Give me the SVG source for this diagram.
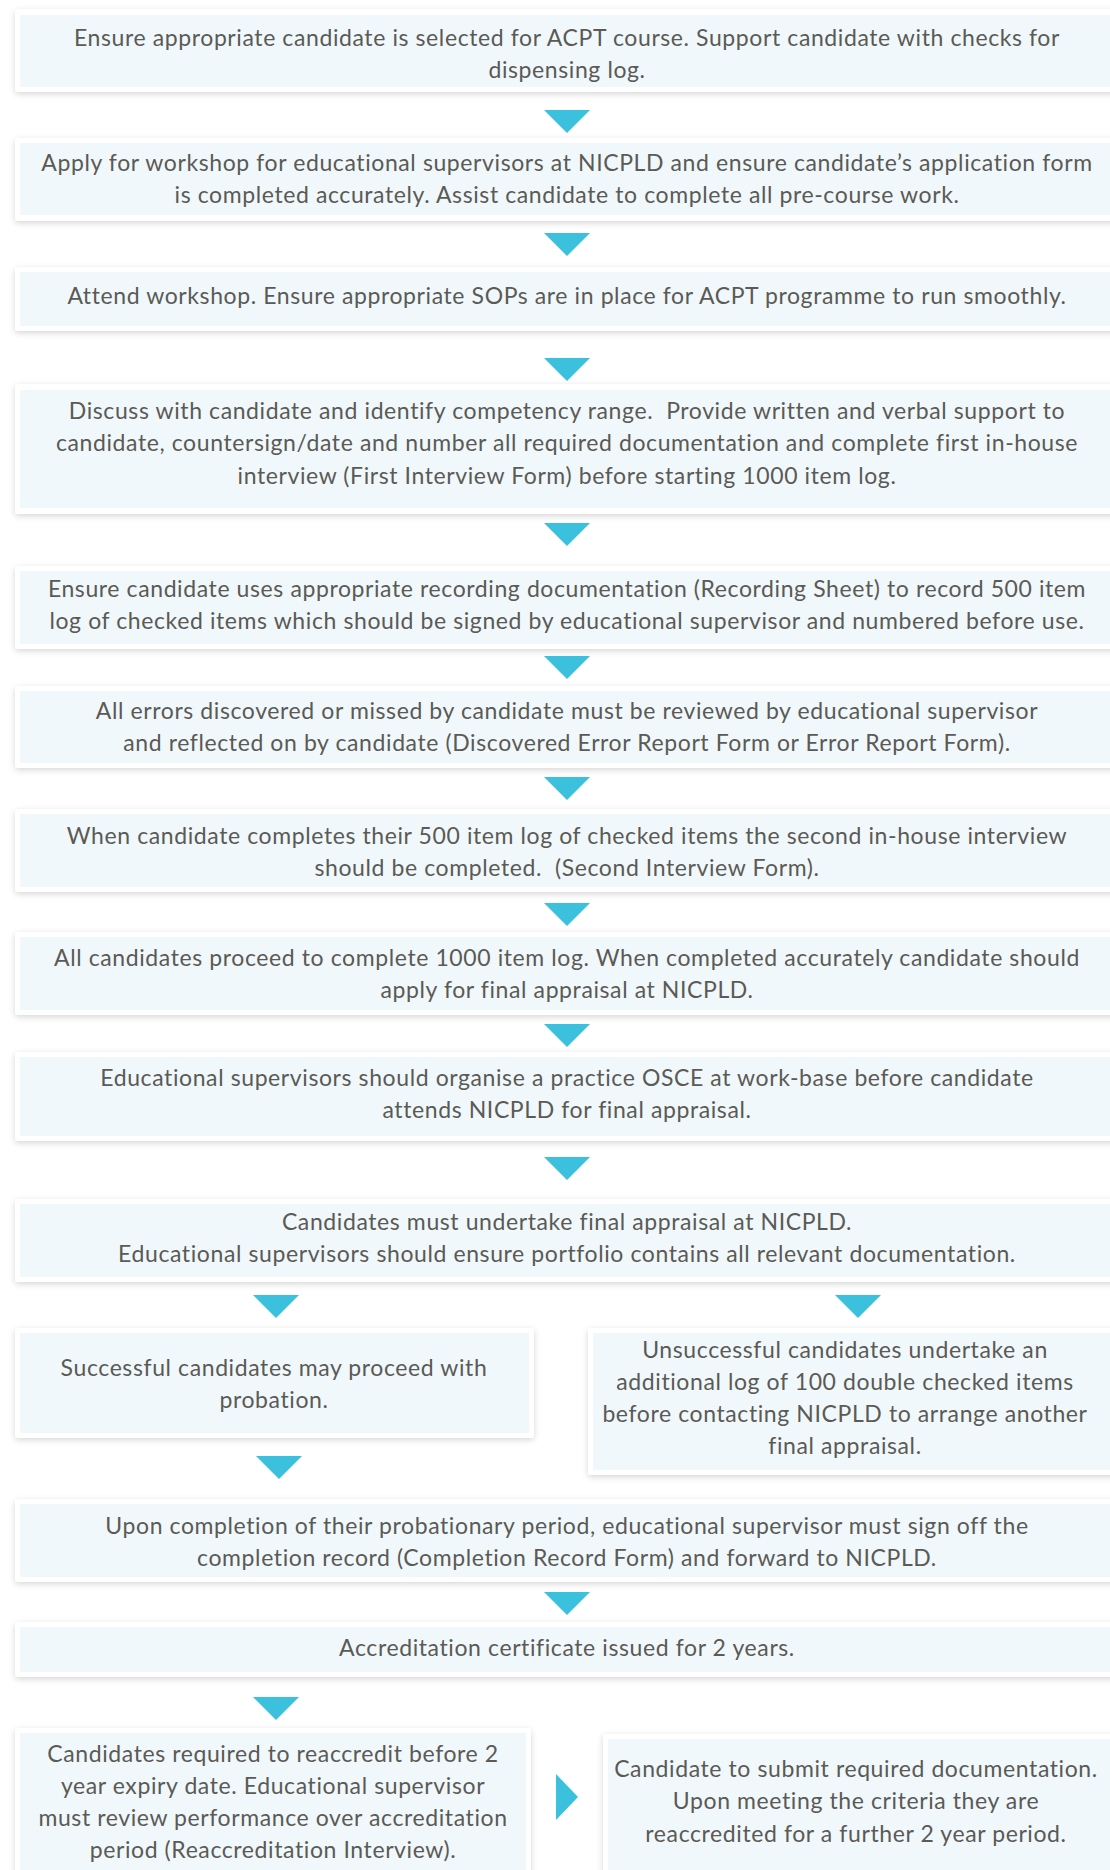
<svg xmlns="http://www.w3.org/2000/svg" width="1110" height="1870" viewBox="0 0 1110 1870">
  <defs>
    <filter id="soft" x="-5%" y="-20%" width="110%" height="140%">
      <feDropShadow dx="0" dy="2" stdDeviation="3" flood-color="#000" flood-opacity="0.16"/>
    </filter>
  </defs>
  <style>
    .card { fill: #ffffff; filter: url(#soft); }
    .fill { fill: #f0f8fc; }
    .t { font-family: Lato, "Noto Sans", "Liberation Sans", sans-serif; font-size: 23px; letter-spacing: 0.6px; fill: #5b5a55; text-anchor: middle; white-space: pre; }
    .arrow { fill: #3bc1de; }
  </style>
  <rect width="1110" height="1870" fill="#ffffff"/>

  <!-- step cards -->
  <g id="step1">
    <rect class="card" x="15" y="9" width="1110" height="83" rx="3"/>
    <rect class="fill" x="20" y="15" width="1100" height="72"/>
    <text class="t" x="567" y="46">Ensure appropriate candidate is selected for ACPT course. Support candidate with checks for</text>
    <text class="t" x="567" y="78">dispensing log.</text>
  </g>
  <g id="step2">
    <rect class="card" x="15" y="138" width="1110" height="83" rx="3"/>
    <rect class="fill" x="20" y="143" width="1100" height="72"/>
    <text class="t" x="567" y="171">Apply for workshop for educational supervisors at NICPLD and ensure candidate’s application form</text>
    <text class="t" x="567" y="203">is completed accurately. Assist candidate to complete all pre-course work.</text>
  </g>
  <g id="step3">
    <rect class="card" x="15" y="267" width="1110" height="64" rx="3"/>
    <rect class="fill" x="20" y="272" width="1100" height="54"/>
    <text class="t" x="567" y="304">Attend workshop. Ensure appropriate SOPs are in place for ACPT programme to run smoothly.</text>
  </g>
  <g id="step4">
    <rect class="card" x="15" y="384" width="1110" height="130" rx="3"/>
    <rect class="fill" x="20" y="390" width="1100" height="118"/>
    <text class="t" x="567" y="419">Discuss with candidate and identify competency range.  Provide written and verbal support to</text>
    <text class="t" x="567" y="451">candidate, countersign/date and number all required documentation and complete first in-house</text>
    <text class="t" x="567" y="484">interview (First Interview Form) before starting 1000 item log.</text>
  </g>
  <g id="step5">
    <rect class="card" x="15" y="566" width="1110" height="83" rx="3"/>
    <rect class="fill" x="20" y="571" width="1100" height="73"/>
    <text class="t" x="567" y="597">Ensure candidate uses appropriate recording documentation (Recording Sheet) to record 500 item</text>
    <text class="t" x="567" y="629">log of checked items which should be signed by educational supervisor and numbered before use.</text>
  </g>
  <g id="step6">
    <rect class="card" x="15" y="686" width="1110" height="82" rx="3"/>
    <rect class="fill" x="20" y="691" width="1100" height="72"/>
    <text class="t" x="567" y="719">All errors discovered or missed by candidate must be reviewed by educational supervisor</text>
    <text class="t" x="567" y="751">and reflected on by candidate (Discovered Error Report Form or Error Report Form).</text>
  </g>
  <g id="step7">
    <rect class="card" x="15" y="809" width="1110" height="83" rx="3"/>
    <rect class="fill" x="20" y="814" width="1100" height="73"/>
    <text class="t" x="567" y="844">When candidate completes their 500 item log of checked items the second in-house interview</text>
    <text class="t" x="567" y="876">should be completed.  (Second Interview Form).</text>
  </g>
  <g id="step8">
    <rect class="card" x="15" y="932" width="1110" height="83" rx="3"/>
    <rect class="fill" x="20" y="937" width="1100" height="73"/>
    <text class="t" x="567" y="966">All candidates proceed to complete 1000 item log. When completed accurately candidate should</text>
    <text class="t" x="567" y="998">apply for final appraisal at NICPLD.</text>
  </g>
  <g id="step9">
    <rect class="card" x="15" y="1052" width="1110" height="89" rx="3"/>
    <rect class="fill" x="20" y="1057" width="1100" height="79"/>
    <text class="t" x="567" y="1086">Educational supervisors should organise a practice OSCE at work-base before candidate</text>
    <text class="t" x="567" y="1118">attends NICPLD for final appraisal.</text>
  </g>
  <g id="step10">
    <rect class="card" x="15" y="1199" width="1110" height="83" rx="3"/>
    <rect class="fill" x="20" y="1204" width="1100" height="73"/>
    <text class="t" x="567" y="1230">Candidates must undertake final appraisal at NICPLD.</text>
    <text class="t" x="567" y="1262">Educational supervisors should ensure portfolio contains all relevant documentation.</text>
  </g>
  <g id="pass">
    <rect class="card" x="15" y="1328" width="519" height="110" rx="3"/>
    <rect class="fill" x="20" y="1333" width="509" height="100"/>
    <text class="t" x="274" y="1376">Successful candidates may proceed with</text>
    <text class="t" x="274" y="1408">probation.</text>
  </g>
  <g id="fail">
    <rect class="card" x="588" y="1328" width="530" height="147" rx="3"/>
    <rect class="fill" x="593" y="1333" width="520" height="137"/>
    <text class="t" x="845" y="1358">Unsuccessful candidates undertake an</text>
    <text class="t" x="845" y="1390">additional log of 100 double checked items</text>
    <text class="t" x="845" y="1422">before contacting NICPLD to arrange another</text>
    <text class="t" x="845" y="1454">final appraisal.</text>
  </g>
  <g id="completion">
    <rect class="card" x="15" y="1499" width="1110" height="83" rx="3"/>
    <rect class="fill" x="20" y="1504" width="1100" height="73"/>
    <text class="t" x="567" y="1534">Upon completion of their probationary period, educational supervisor must sign off the</text>
    <text class="t" x="567" y="1566">completion record (Completion Record Form) and forward to NICPLD.</text>
  </g>
  <g id="certificate">
    <rect class="card" x="15" y="1622" width="1110" height="55" rx="3"/>
    <rect class="fill" x="20" y="1627" width="1100" height="45"/>
    <text class="t" x="567" y="1656">Accreditation certificate issued for 2 years.</text>
  </g>
  <g id="reaccredit">
    <rect class="card" x="15" y="1728" width="516" height="160" rx="3"/>
    <rect class="fill" x="20" y="1733" width="506" height="150"/>
    <text class="t" x="273" y="1762">Candidates required to reaccredit before 2</text>
    <text class="t" x="273" y="1794">year expiry date. Educational supervisor</text>
    <text class="t" x="273" y="1826">must review performance over accreditation</text>
    <text class="t" x="273" y="1858">period (Reaccreditation Interview).</text>
  </g>
  <g id="renewal">
    <rect class="card" x="603" y="1734" width="520" height="160" rx="3"/>
    <rect class="fill" x="608" y="1739" width="510" height="150"/>
    <text class="t" x="856" y="1777">Candidate to submit required documentation.</text>
    <text class="t" x="856" y="1809">Upon meeting the criteria they are</text>
    <text class="t" x="856" y="1842">reaccredited for a further 2 year period.</text>
  </g>

  <!-- flow arrows -->
  <g id="connectors">
    <polygon class="arrow" points="544,110 590,110 567,133"/>
    <polygon class="arrow" points="544,233 590,233 567,256"/>
    <polygon class="arrow" points="544,358 590,358 567,381"/>
    <polygon class="arrow" points="544,523 590,523 567,546"/>
    <polygon class="arrow" points="544,656 590,656 567,679"/>
    <polygon class="arrow" points="544,777 590,777 567,800"/>
    <polygon class="arrow" points="544,903 590,903 567,926"/>
    <polygon class="arrow" points="544,1024 590,1024 567,1047"/>
    <polygon class="arrow" points="544,1157 590,1157 567,1180"/>
    <polygon class="arrow" points="253,1295 299,1295 276,1318"/>
    <polygon class="arrow" points="835,1295 881,1295 858,1318"/>
    <polygon class="arrow" points="256,1456 302,1456 279,1479"/>
    <polygon class="arrow" points="544,1592 590,1592 567,1615"/>
    <polygon class="arrow" points="253,1697 299,1697 276,1720"/>
    <polygon class="arrow" points="556,1774 578,1797 556,1820"/>
  </g>
</svg>
